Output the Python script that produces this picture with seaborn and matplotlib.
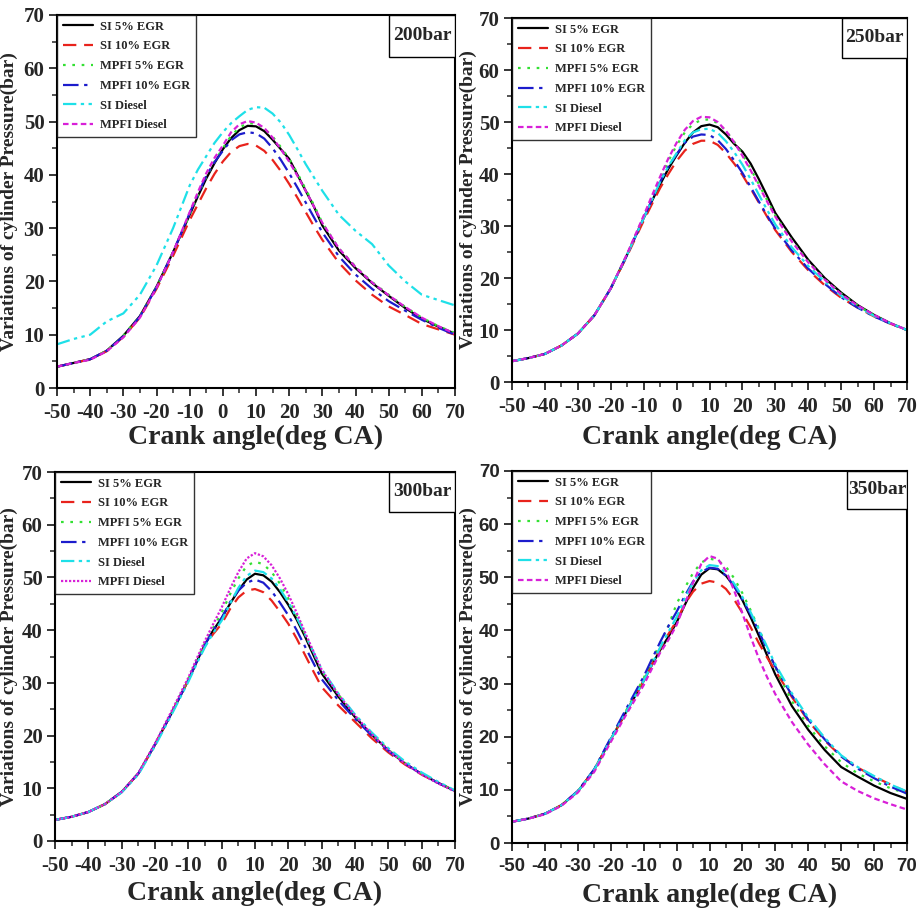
import matplotlib
matplotlib.use("Agg")
import matplotlib.pyplot as plt
from matplotlib.ticker import MultipleLocator
from matplotlib.patches import Rectangle
import seaborn as sns
import pandas as pd

sns.set_theme(style="ticks")
plt.rcParams['font.family'] = ['Liberation Serif', 'DejaVu Serif']
plt.rcParams['axes.unicode_minus'] = False

# ---------------- data ----------------
crank_angle = [-50, -45, -40, -35, -30, -25, -20, -15, -10, -7.5, -5, -2.5, 0, 2.5, 5, 7.5,
               10, 12.5, 15, 17.5, 20, 22.5, 25, 27.5, 30, 35, 40, 45, 50, 55, 60, 65, 70]

series_names = ["SI 5% EGR", "SI 10% EGR", "MPFI 5% EGR", "MPFI 10% EGR", "SI Diesel", "MPFI Diesel"]
panel_labels = ["200bar", "250bar", "300bar", "350bar"]

# 200 bar
p200_si5 = [4.0, 4.7, 5.4, 7.0, 9.8, 13.5, 19.0, 25.5, 32.5, 36.0, 39.3, 42.2, 44.8, 46.9, 48.4, 49.2,
            49.1, 48.2, 46.6, 44.8, 43.0, 40.0, 37.0, 34.0, 30.5, 25.8, 22.5, 19.7, 17.3, 15.0, 13.0, 11.5, 10.2]
p200_si10 = [4.0, 4.7, 5.4, 6.9, 9.6, 13.2, 18.6, 24.8, 31.5, 34.5, 37.5, 40.2, 42.5, 44.3, 45.4, 45.8,
             45.5, 44.5, 42.8, 40.7, 38.3, 35.7, 33.0, 30.3, 27.8, 23.5, 20.2, 17.5, 15.3, 13.7, 12.0, 11.0, 10.0]
p200_mpfi5 = [4.0, 4.7, 5.4, 7.0, 9.8, 13.5, 19.0, 25.5, 32.5, 36.2, 39.6, 42.5, 45.0, 47.3, 48.9, 49.7,
              49.6, 48.7, 47.2, 45.2, 43.0, 40.3, 37.3, 34.3, 31.0, 26.2, 22.8, 19.9, 17.5, 15.2, 13.2, 11.6, 10.3]
p200_mpfi10 = [4.0, 4.7, 5.4, 7.0, 9.7, 13.4, 18.9, 25.5, 32.8, 36.4, 39.8, 42.4, 44.5, 46.5, 47.6, 48.0,
               47.8, 46.8, 45.0, 42.8, 40.3, 37.6, 34.8, 32.0, 29.2, 24.7, 21.3, 18.6, 16.3, 14.5, 12.8, 11.3, 10.0]
p200_sidiesel = [8.2, 9.2, 10.0, 12.5, 14.0, 17.5, 23.0, 30.0, 38.0, 41.0, 43.5, 46.0, 48.0, 49.7, 51.0, 52.2,
                 52.7, 52.6, 51.5, 49.8, 47.5, 44.8, 42.0, 39.5, 37.0, 32.5, 29.5, 27.0, 23.0, 20.0, 17.5, 16.5, 15.5]
p200_mpfidiesel = [4.0, 4.7, 5.3, 6.9, 9.5, 13.2, 18.8, 25.5, 33.0, 36.8, 40.3, 43.2, 45.5, 48.0, 49.5, 50.1,
                   49.8, 48.8, 47.0, 44.8, 42.5, 39.8, 37.0, 34.0, 31.0, 26.2, 22.7, 19.8, 17.4, 15.2, 13.2, 11.6, 10.2]

# 250 bar
p250_si5 = [4.0, 4.6, 5.4, 7.0, 9.3, 12.8, 18.0, 24.5, 31.5, 34.8, 38.0, 41.0, 43.6, 46.0, 48.0, 49.2,
            49.5, 49.0, 47.6, 45.8, 44.3, 42.0, 39.0, 35.8, 32.5, 27.8, 23.5, 20.0, 17.2, 14.8, 12.9, 11.3, 10.0]
p250_si10 = [4.0, 4.6, 5.4, 7.0, 9.3, 12.8, 18.0, 24.3, 31.0, 34.2, 37.3, 40.0, 42.5, 44.5, 45.8, 46.4,
             46.4, 45.6, 44.0, 42.0, 39.8, 37.2, 34.5, 31.8, 29.2, 25.0, 21.5, 18.6, 16.2, 14.3, 12.6, 11.2, 10.0]
p250_mpfi5 = [4.0, 4.6, 5.4, 7.0, 9.3, 12.8, 18.0, 24.6, 31.8, 35.4, 39.0, 42.5, 45.5, 48.0, 49.6, 50.4,
              50.5, 49.8, 48.3, 46.2, 43.8, 41.0, 38.0, 35.0, 32.0, 27.2, 23.2, 19.8, 17.0, 14.7, 12.8, 11.2, 10.0]
p250_mpfi10 = [4.0, 4.6, 5.4, 7.0, 9.3, 12.8, 18.0, 24.5, 31.5, 35.0, 38.5, 41.4, 43.8, 46.0, 47.2, 47.6,
               47.5, 46.5, 44.8, 42.6, 40.2, 37.5, 34.7, 32.0, 29.5, 25.3, 21.8, 18.9, 16.3, 14.3, 12.6, 11.2, 10.0]
p250_sidiesel = [4.0, 4.6, 5.4, 7.0, 9.3, 12.8, 18.0, 24.5, 31.5, 35.0, 38.5, 41.5, 44.0, 46.5, 48.0, 48.6,
                 48.7, 47.9, 46.3, 44.2, 41.8, 39.0, 36.0, 33.1, 30.3, 25.9, 22.3, 19.3, 16.6, 14.5, 12.7, 11.3, 10.0]
p250_mpfidiesel = [4.0, 4.6, 5.4, 7.0, 9.3, 12.8, 18.0, 24.7, 32.0, 35.8, 39.5, 43.0, 46.0, 48.5, 50.2, 51.0,
                   50.9, 50.0, 48.3, 46.1, 43.5, 40.7, 37.7, 34.7, 31.8, 27.0, 23.0, 19.7, 16.9, 14.7, 12.9, 11.3, 10.0]

# 300 bar
p300_si5 = [4.0, 4.6, 5.5, 7.0, 9.3, 12.8, 18.3, 24.3, 30.5, 34.0, 37.3, 40.0, 42.3, 45.0, 47.5, 49.6,
            50.7, 50.4, 49.2, 47.2, 44.8, 42.0, 38.8, 35.3, 31.8, 27.4, 23.5, 20.2, 17.2, 14.7, 12.7, 11.0, 9.5]
p300_si10 = [4.0, 4.6, 5.5, 7.0, 9.3, 12.8, 18.3, 24.3, 30.5, 34.0, 37.0, 39.3, 41.2, 44.0, 46.2, 47.5,
             47.8, 47.2, 45.6, 43.5, 41.2, 38.4, 35.3, 32.2, 29.2, 25.7, 22.6, 19.5, 16.8, 14.5, 12.6, 11.0, 9.5]
p300_mpfi5 = [4.0, 4.6, 5.5, 7.0, 9.3, 12.8, 18.3, 24.3, 30.7, 34.3, 37.6, 40.5, 43.3, 46.8, 49.8, 52.2,
              53.0, 52.5, 51.0, 48.8, 46.0, 42.8, 39.3, 35.8, 32.3, 27.8, 23.8, 20.4, 17.3, 14.8, 12.8, 11.1, 9.5]
p300_mpfi10 = [4.0, 4.6, 5.5, 7.0, 9.3, 12.8, 18.3, 24.3, 30.5, 34.0, 37.3, 40.0, 42.3, 45.3, 47.5, 49.0,
               49.6, 49.0, 47.4, 45.2, 42.8, 40.0, 36.9, 33.8, 30.7, 26.7, 23.2, 20.0, 17.1, 14.7, 12.7, 11.0, 9.5]
p300_sidiesel = [4.0, 4.6, 5.5, 7.0, 9.2, 12.6, 18.0, 24.0, 30.2, 33.6, 36.8, 39.5, 41.8, 45.0, 48.0, 50.3,
                 51.3, 51.0, 49.8, 47.8, 45.3, 42.4, 39.2, 35.9, 32.6, 28.0, 24.0, 20.6, 17.6, 15.1, 13.0, 11.2, 9.6]
p300_mpfidiesel = [4.0, 4.6, 5.5, 7.0, 9.3, 12.9, 18.5, 24.7, 31.0, 34.6, 38.0, 41.2, 44.3, 47.8, 51.0, 53.6,
                   54.6, 54.0, 52.3, 49.8, 46.8, 43.3, 39.6, 36.0, 32.5, 27.8, 23.8, 20.3, 17.2, 14.7, 12.6, 10.9, 9.4]

# 350 bar
p350_si5 = [4.0, 4.6, 5.5, 7.1, 9.7, 13.8, 19.5, 25.0, 30.5, 33.5, 36.3, 38.8, 41.5, 44.8, 48.0, 50.5,
            51.7, 51.5, 50.3, 48.3, 45.7, 42.5, 39.0, 35.3, 31.7, 25.8, 21.3, 17.5, 14.3, 12.5, 10.8, 9.4, 8.3]
p350_si10 = [4.0, 4.6, 5.5, 7.1, 9.7, 13.8, 19.5, 25.0, 30.5, 33.6, 36.6, 39.3, 41.8, 45.0, 47.3, 48.8,
             49.3, 49.0, 47.8, 45.8, 43.3, 40.6, 37.6, 34.9, 32.4, 27.5, 23.0, 19.3, 16.3, 14.2, 12.5, 11.0, 9.6]
p350_mpfi5 = [4.0, 4.6, 5.5, 7.1, 9.7, 13.8, 19.5, 25.3, 31.0, 34.3, 37.6, 40.8, 45.0, 48.0, 50.8, 52.8,
              53.5, 53.2, 52.0, 49.8, 47.0, 43.8, 40.3, 36.6, 33.0, 26.7, 22.0, 18.2, 15.2, 13.1, 11.6, 10.3, 9.3]
p350_mpfi10 = [4.0, 4.6, 5.5, 7.1, 9.8, 13.9, 19.8, 25.6, 31.3, 34.6, 37.8, 40.8, 43.5, 46.5, 49.2, 51.0,
               51.8, 51.6, 50.3, 48.3, 45.8, 43.0, 39.8, 36.4, 33.2, 27.8, 23.2, 19.5, 16.3, 14.0, 12.2, 10.6, 9.3]
p350_sidiesel = [4.0, 4.6, 5.5, 7.1, 9.7, 13.8, 19.5, 25.0, 30.5, 33.6, 36.8, 39.7, 42.5, 46.0, 49.0, 51.3,
                 52.3, 52.1, 50.8, 48.8, 46.3, 43.4, 40.2, 36.9, 33.6, 28.2, 23.6, 19.8, 16.5, 14.3, 12.6, 11.0, 9.7]
p350_mpfidiesel = [4.0, 4.6, 5.4, 7.0, 9.5, 13.4, 19.0, 24.5, 29.7, 32.8, 35.8, 38.2, 41.0, 45.0, 49.0, 52.5,
                   54.0, 53.5, 51.2, 47.5, 43.2, 38.8, 34.7, 31.2, 28.0, 22.8, 18.5, 14.8, 11.6, 9.8, 8.4, 7.3, 6.3]

panels_data = [
    [p200_si5, p200_si10, p200_mpfi5, p200_mpfi10, p200_sidiesel, p200_mpfidiesel],
    [p250_si5, p250_si10, p250_mpfi5, p250_mpfi10, p250_sidiesel, p250_mpfidiesel],
    [p300_si5, p300_si10, p300_mpfi5, p300_mpfi10, p300_sidiesel, p300_mpfidiesel],
    [p350_si5, p350_si10, p350_mpfi5, p350_mpfi10, p350_sidiesel, p350_mpfidiesel],
]

# ---------------- styles ----------------
colors = ["#000000", "#e8231c", "#33e033", "#1c1ccc", "#1ee0e8", "#d820d8"]
styles = ["-", (0, (6, 3.5)), (0, (1.2, 3)), (0, (7, 2.5, 1.5, 2.5)),
          (0, (6, 2, 1.5, 2, 1.5, 2)), (0, (2.5, 1.5))]
styles_p300 = list(styles)
styles_p300[5] = (0, (1, 0.8))

# axes boxes in pixels: left, top, right, bottom ; and x-label centre y (px)
FW, FH = 919, 914
axes_px = [
    (57, 15, 455, 388, 437),
    (512, 18, 907, 382, 437),
    (55, 472, 455, 841, 893),
    (512, 471, 907, 843, 895),
]
ann_px = [(66, 42), (65, 40), (66, 40), (60, 38)]

fig = plt.figure(figsize=(FW / 100, FH / 100), dpi=100)

for i, (l, t, r, b, xl) in enumerate(axes_px):
    ax = fig.add_axes([l / FW, 1 - b / FH, (r - l) / FW, (b - t) / FH])
    hpx, wpx = b - t, r - l
    tick_family = ['Liberation Sans', 'DejaVu Sans'] if i == 3 else ['Liberation Serif', 'DejaVu Serif']
    sty = styles_p300 if i == 2 else styles
    for j, name in enumerate(series_names):
        df = pd.DataFrame({"angle": crank_angle, "p": panels_data[i][j]})
        sns.lineplot(data=df, x="angle", y="p", ax=ax, color=colors[j], linestyle=sty[j],
                     linewidth=1.6, label=name, estimator=None, sort=False)
    ax.set_xlim(-50, 70)
    ax.set_ylim(0, 70)
    ax.xaxis.set_major_locator(MultipleLocator(10))
    ax.xaxis.set_minor_locator(MultipleLocator(5))
    ax.yaxis.set_major_locator(MultipleLocator(10))
    ax.yaxis.set_minor_locator(MultipleLocator(5))
    ax.tick_params(which="major", direction="out", length=6, width=1.3,
                   labelsize=(13.5 if i == 3 else 15), pad=3)
    ax.tick_params(axis="x", which="major", pad=5)
    ax.tick_params(which="minor", direction="out", length=3.5, width=1.1)
    for lab in ax.get_xticklabels() + ax.get_yticklabels():
        lab.set_fontfamily(tick_family)
        lab.set_fontweight("bold")
    for sp in ax.spines.values():
        sp.set_visible(True)
        sp.set_linewidth(1.5)
        sp.set_color("black")
    ax.set_xlabel("Crank angle(deg CA)", fontsize=20, fontweight="bold", va="center")
    ax.xaxis.set_label_coords(0.5, (b - xl) / hpx)
    ax.set_ylabel("Variations of cylinder Pressure(bar)", fontsize=14, fontweight="bold", va="center")
    ax.yaxis.set_label_coords((9 + (459 if i % 2 else 0) - l) / wpx, 0.5)
    leg = ax.legend(loc="upper left", bbox_to_anchor=(0, 1), borderaxespad=0,
                    prop={"family": "Liberation Serif", "weight": "bold", "size": 9},
                    frameon=True, fancybox=False, edgecolor="black", handlelength=2.4,
                    labelspacing=0.62, borderpad=0.45, handletextpad=0.6)
    leg.get_frame().set_linewidth(1.0)
    aw, ah = ann_px[i][0] / wpx, ann_px[i][1] / hpx
    ax.add_patch(Rectangle((1 - aw, 1 - ah), aw, ah, transform=ax.transAxes,
                           facecolor="white", edgecolor="black", linewidth=1.0, zorder=5))
    ax.text(1 - aw / 2, 1 - ah / 2, panel_labels[i], transform=ax.transAxes, ha="center", va="center",
            fontsize=14, fontweight="bold", fontfamily="Liberation Serif", zorder=6)

fig.savefig("out.png", dpi=100)
